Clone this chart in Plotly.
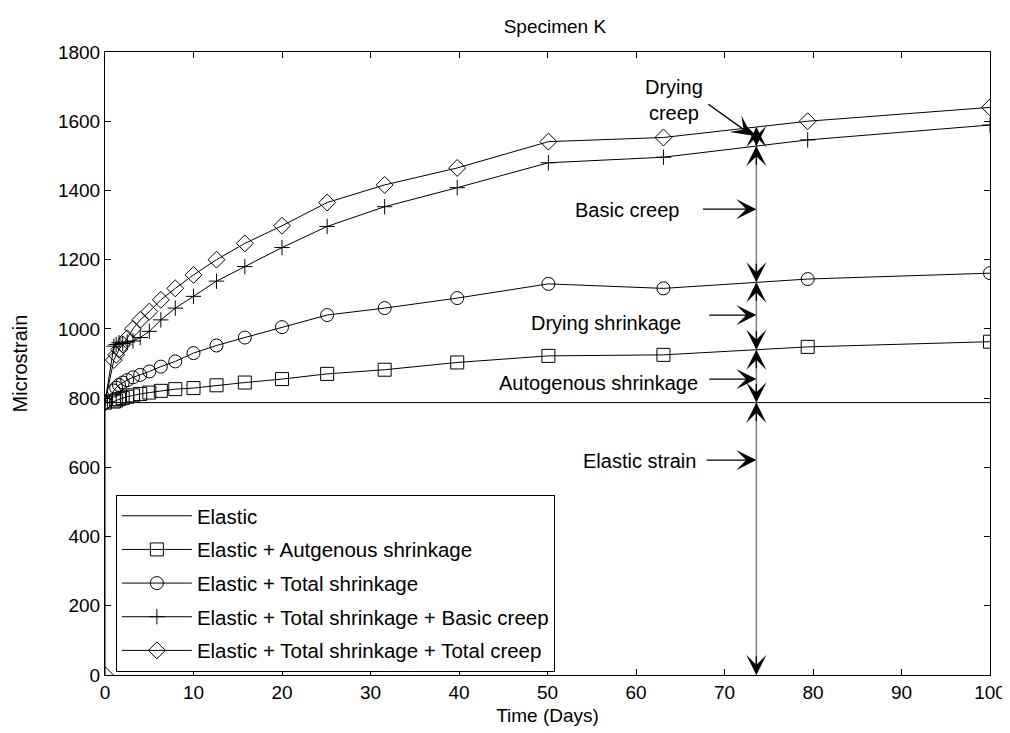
import numpy as np
import plotly.graph_objects as go

# ---------------- data ----------------
days = [0, 1, 1.26, 1.58, 2, 2.51, 3.16, 3.98, 5.01, 6.31, 7.94, 10,
        12.6, 15.8, 20, 25.1, 31.6, 39.8, 50.1, 63.1, 79.4, 100]
autogenous = [787, 790, 793, 797, 800, 804, 808, 812, 816, 821, 826, 829,
              837, 845, 855, 870, 882, 903, 922, 925, 948, 963]
total_shrinkage = [787, 822, 830, 838, 845, 852, 860, 867, 877, 891, 906, 930,
                   952, 975, 1005, 1040, 1060, 1089, 1130, 1117, 1144, 1161]
basic_creep = [787, 950, 955, 960, 958, 962, 965, 975, 993, 1026, 1060, 1094,
               1138, 1180, 1235, 1296, 1353, 1408, 1480, 1496, 1546, 1589]
creep_days = [0, 0, 1, 1.26, 1.58, 2, 2.51, 3.16, 3.98, 5.01, 6.31, 7.94, 10,
              12.6, 15.8, 20, 25.1, 31.6, 39.8, 50.1, 63.1, 79.4, 100]
total_creep = [0, 787, 910, 925, 940, 955, 973, 1000, 1026, 1050, 1084, 1117, 1156,
               1200, 1247, 1298, 1365, 1416, 1465, 1541, 1553, 1600, 1640]
elastic_days = [0, 100]
elastic = [787, 787]

series_names = ["Elastic",
                "Elastic + Autgenous shrinkage",
                "Elastic + Total shrinkage",
                "Elastic + Total shrinkage + Basic creep",
                "Elastic + Total shrinkage + Total creep"]
x_ticks = [0, 10, 20, 30, 40, 50, 60, 70, 80, 90, 100]
y_ticks = [0, 200, 400, 600, 800, 1000, 1200, 1400, 1600, 1800]
arrow_day = 73.6

# ---------------- figure ----------------
FONT = "Liberation Sans, Arial, sans-serif"
BLACK = "black"

fig = go.Figure()
fig.add_trace(go.Scatter(x=elastic_days, y=elastic, mode="lines", name=series_names[0],
                         legendgroup="g0", line=dict(color=BLACK, width=1)))
fig.add_trace(go.Scatter(x=days, y=autogenous, mode="lines+markers", name=series_names[1],
                         legendgroup="g1", line=dict(color=BLACK, width=1),
                         marker=dict(symbol="square-open", size=13, color=BLACK, line=dict(width=1))))
fig.add_trace(go.Scatter(x=days, y=total_shrinkage, mode="lines+markers", name=series_names[2],
                         legendgroup="g2", line=dict(color=BLACK, width=1),
                         marker=dict(symbol="circle-open", size=13, color=BLACK, line=dict(width=1))))
fig.add_trace(go.Scatter(x=days, y=basic_creep, mode="lines+markers", name=series_names[3],
                         legendgroup="g3", line=dict(color=BLACK, width=1),
                         marker=dict(symbol="cross-thin-open", size=11, color=BLACK,
                                     line=dict(width=1, color=BLACK))))
fig.add_trace(go.Scatter(x=creep_days, y=total_creep, mode="lines+markers", name=series_names[4],
                         legendgroup="g4", line=dict(color=BLACK, width=1),
                         marker=dict(symbol="diamond-open", size=13, color=BLACK, line=dict(width=1))))

# boundaries on the vertical marker line
b_el = float(np.interp(arrow_day, elastic_days, elastic))
b_au = float(np.interp(arrow_day, days, autogenous))
b_ts = float(np.interp(arrow_day, days, total_shrinkage))
b_bc = float(np.interp(arrow_day, days, basic_creep))
b_tc = float(np.interp(arrow_day, creep_days, total_creep))

fig.add_trace(go.Scatter(x=[arrow_day, arrow_day], y=[0, b_tc], mode="lines",
                         line=dict(color="#808080", width=1.5), showlegend=False, hoverinfo="skip"))

ann = []
HEAD = dict(showarrow=True, arrowhead=3, arrowsize=2.6, arrowwidth=1.3, arrowcolor=BLACK, text="")
# double-arrow heads along the vertical line
for tip in [0, b_el, b_au, b_ts, b_bc]:
    ann.append(dict(x=arrow_day, y=tip, ax=0, ay=-20, **HEAD))   # pointing down
for tip in [b_el, b_au, b_ts, b_bc, b_tc]:
    ann.append(dict(x=arrow_day, y=tip, ax=0, ay=20, **HEAD))    # pointing up

TXT = dict(showarrow=False, font=dict(family=FONT, size=20, color=BLACK))
labels = [("Drying<br>creep", 64.3, 1660),
          ("Basic creep", 59.0, 1343),
          ("Drying shrinkage", 56.6, 1016),
          ("Autogenous shrinkage", 55.8, 843),
          ("Elastic strain", 60.4, 618)]
for t, x, y in labels:
    ann.append(dict(x=x, y=y, text=t, **TXT))

side = [(1346, 67.4), (1040, 68.1), (855, 68.1), (621, 67.8)]
for y, xt in side:
    ann.append(dict(x=arrow_day, y=y, ax=xt, ay=y, axref="x", ayref="y", **HEAD))
ann.append(dict(x=73.1, y=1559, ax=68.0, ay=1652, axref="x", ayref="y", **HEAD))

axis_common = dict(showline=True, linecolor=BLACK, linewidth=1, mirror="ticks",
                   ticks="inside", ticklen=6, tickcolor=BLACK, showgrid=False, zeroline=False,
                   tickfont=dict(family=FONT, size=19, color=BLACK))

fig.update_layout(
    width=1010, height=733,
    paper_bgcolor="white", plot_bgcolor="white",
    margin=dict(l=95, r=22, t=44, b=66),
    font=dict(family=FONT, size=20, color=BLACK),
    title=dict(text="Specimen K", x=0.5415, xanchor="center", y=0.975, yanchor="middle",
               font=dict(family=FONT, size=19, color=BLACK)),
    xaxis=dict(range=[0, 100], tickvals=x_ticks, **axis_common,
               title=dict(text="Time (Days)", standoff=6, font=dict(family=FONT, size=19))),
    yaxis=dict(range=[0, 1800], tickvals=y_ticks, **axis_common,
               title=dict(text="Microstrain", standoff=24, font=dict(family=FONT, size=20))),
    legend=dict(x=0.0123, y=0.289, xanchor="left", yanchor="top",
                bordercolor=BLACK, borderwidth=1, bgcolor="white",
                font=dict(family=FONT, size=20.5, color=BLACK), itemwidth=70,
                tracegroupgap=4, entrywidth=392, entrywidthmode="pixels"),
    annotations=ann,
    showlegend=True,
)

fig.write_html("out.html")
